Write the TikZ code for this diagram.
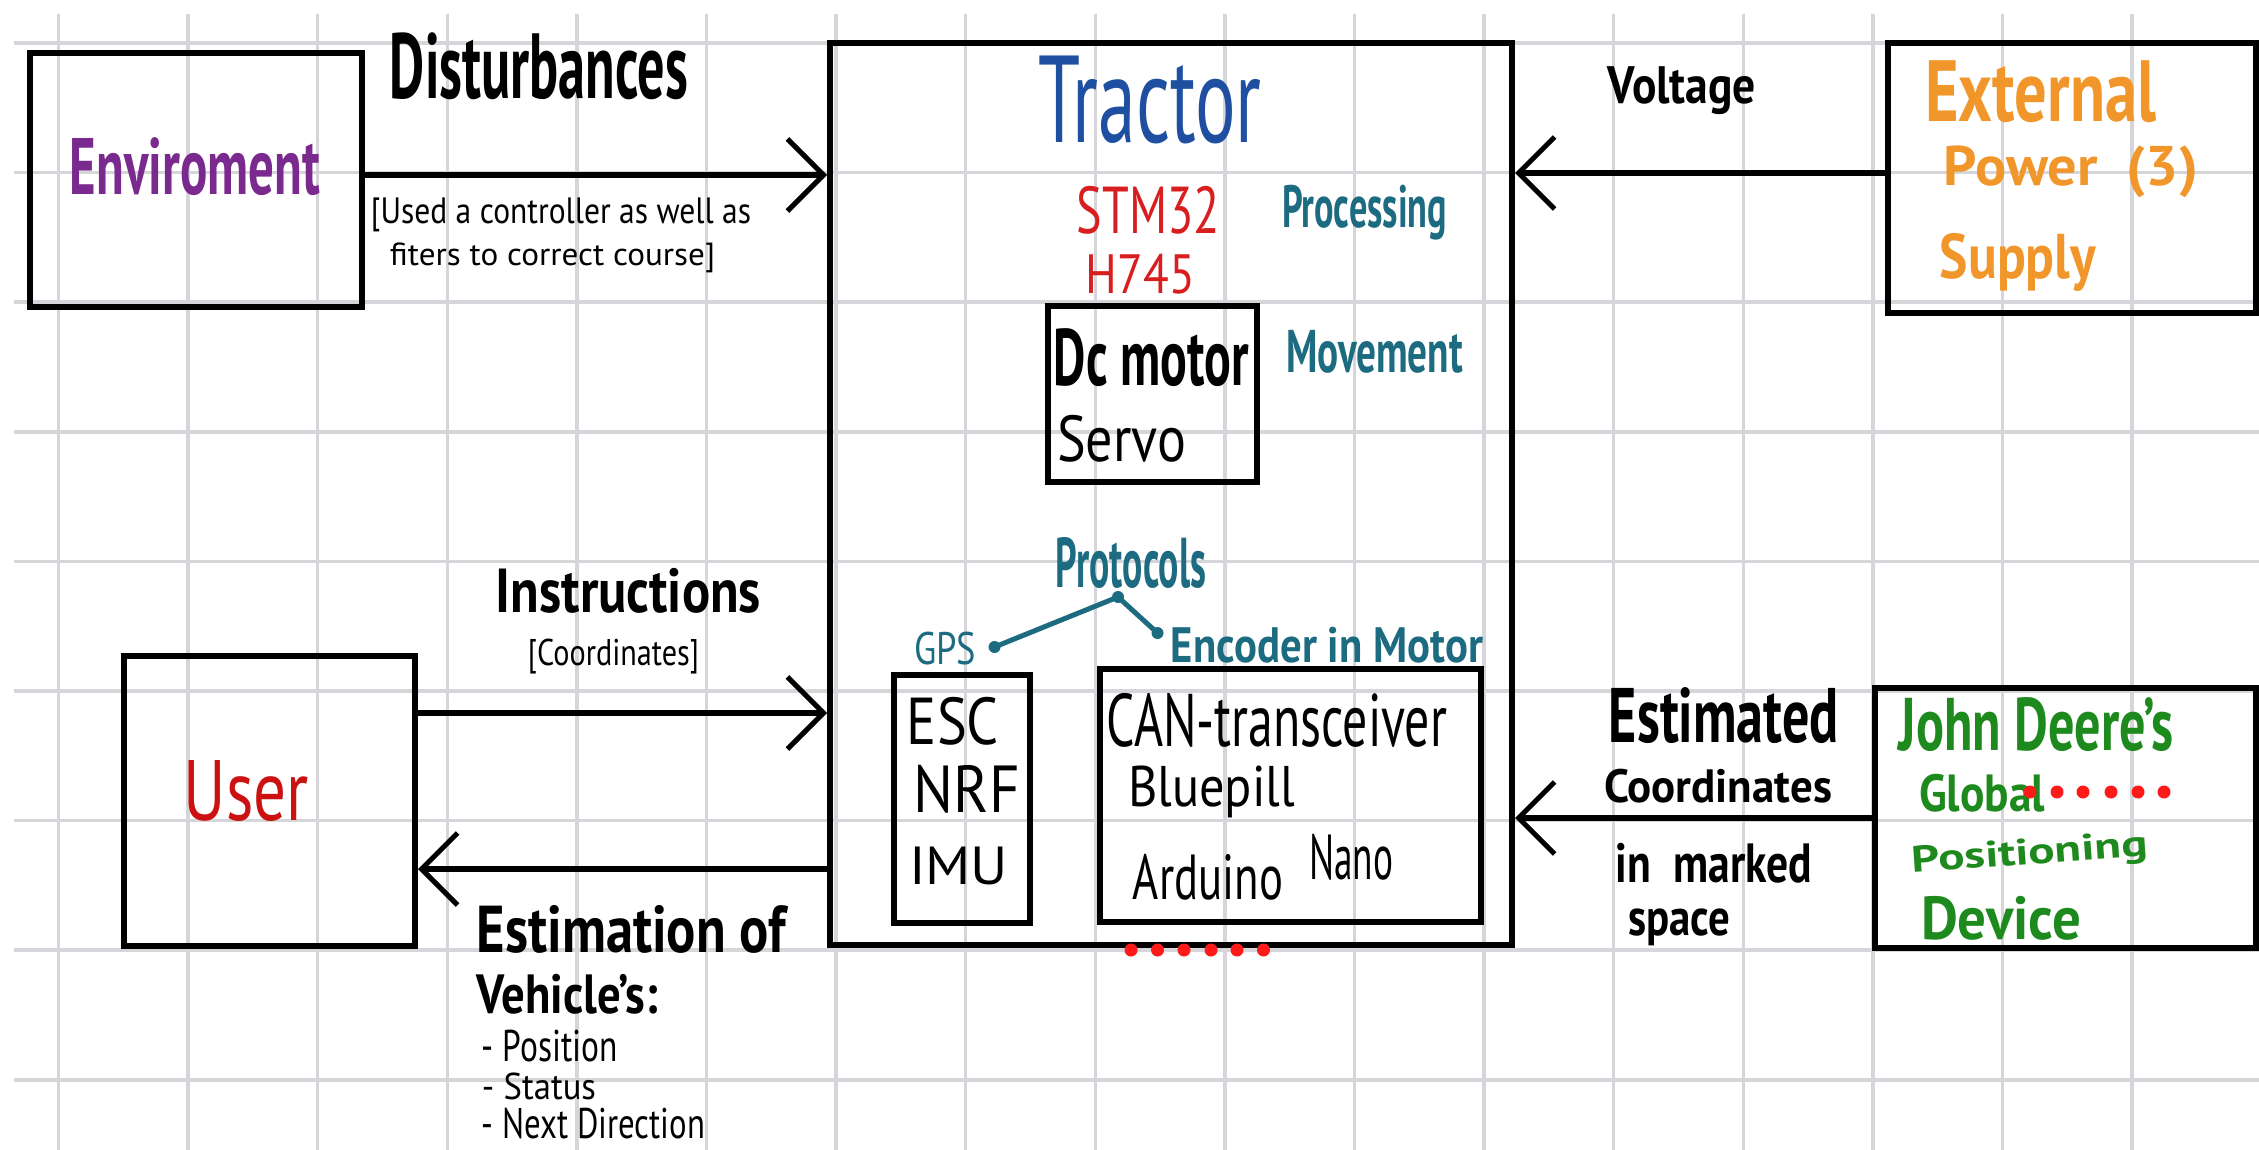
\documentclass[tikz,border=0pt]{standalone}
\usepackage{fontspec}
\usepackage{graphicx}
\setmainfont{PT Sans}
\usetikzlibrary{arrows.meta}

\definecolor{gridgray}{HTML}{D6D6DA}
\definecolor{envpurple}{HTML}{7A2A8E}
\definecolor{tracblue}{HTML}{1F4FA0}
\definecolor{chipred}{HTML}{D81E1E}
\definecolor{userred}{HTML}{CC1111}
\definecolor{noteteal}{HTML}{1C6B80}
\definecolor{powerorange}{HTML}{F0962A}
\definecolor{jdgreen}{HTML}{1E8A1E}
\definecolor{dotred}{HTML}{FF1A1A}

% handwritten-style label scaled to a given ink box (width, total height)
\newcommand\hw[3]{\resizebox*{#1pt}{#2pt}{#3}}
% same, with the heavier pen
\newcommand\hwb[3]{\resizebox*{#1pt}{#2pt}{\bfseries #3}}

\begin{document}
\begin{tikzpicture}[x=1pt,y=-1pt,
  box/.style={draw=black, line width=6pt, inner sep=0pt},
  lbl/.style={inner sep=0pt, anchor=center},
  arr/.style={draw=black, line width=5.5pt,
    -{Straight Barb[length=36pt,width=72pt,line width=5pt]}},
  protoline/.style={draw=noteteal, line width=5pt, line cap=round},
  reddot/.style={fill=dotred, draw=none}]

\useasboundingbox (0,0) rectangle (2259,1150);
\fill[white] (0,0) rectangle (2259,1150);

% squared paper
\foreach \k in {0,...,16}
  \draw[gridgray, line width=3.5pt] ({58.5+129.6*\k},14) -- ({58.5+129.6*\k},1150);
\foreach \j in {0,...,8}
  \draw[gridgray, line width=3.5pt] (14,{43+129.6*\j}) -- (2259,{43+129.6*\j});

% blocks
\node[box, minimum width=332pt, minimum height=254pt] (env) at (196,180) {};
\node[box, minimum width=682pt, minimum height=902pt] (tractor) at (1171,494) {};
\node[box, minimum width=368pt, minimum height=270pt] (ext) at (2072,178) {};
\node[box, minimum width=291pt, minimum height=290pt] (user) at (269.5,801) {};
\node[box, minimum width=381pt, minimum height=260pt] (jd) at (2065.5,818) {};
\node[box, minimum width=209pt, minimum height=176pt] (motor) at (1152.5,394) {};
\node[box, minimum width=136pt, minimum height=248pt] (esc) at (962,799) {};
\node[box, minimum width=381pt, minimum height=253pt] (can) at (1290.5,795.5) {};

% connectors
\draw[arr] (env.east |- 0,175) -- (tractor.west |- 0,175);
\draw[arr] (ext.west |- 0,173) -- (tractor.east |- 0,173);
\draw[arr] (user.east |- 0,713) -- (tractor.west |- 0,713);
\draw[arr] (tractor.west |- 0,869) -- (user.east |- 0,869);
\draw[arr] (jd.west |- 0,818) -- (tractor.east |- 0,818);

% protocol links
\coordinate (pgps) at (994.5,647);
\coordinate (pjoin) at (1118,597);
\coordinate (penc) at (1157.5,633);
\draw[protoline] (pgps) -- (pjoin) -- (penc);
\foreach \p in {pgps,pjoin,penc} \fill[noteteal] (\p) circle (6pt);

% block titles
\node[lbl, text=envpurple] (tEnv) at (195,167) {\hwb{250}{58}{Enviroment}};
\node[lbl, text=tracblue] (tTrac) at (1150,100) {\hw{223}{88}{Tractor}};
\node[lbl, text=powerorange] (tExt1) at (2040.5,92) {\hwb{231}{62}{External}};
\node[lbl, text=powerorange] (tExt2) at (2071,172) {\hwb{254}{52}{Power \ (3)}};
\node[lbl, text=powerorange] (tExt3) at (2018,262) {\hwb{156}{58}{Supply}};
\node[lbl, text=userred] (tUser) at (246.5,791.5) {\hw{125}{61}{User}};
\node[lbl, text=jdgreen] (tJd1) at (2036,725) {\hwb{274}{54}{John Deere's}};
\node[lbl, text=jdgreen] (tJd2) at (1982,793) {\hwb{126}{38}{Global}};
\node[lbl, text=jdgreen, rotate=4] (tJd3) at (2030,855) {\hwb{236}{34}{Positioning}};
\node[lbl, text=jdgreen] (tJd4) at (2001,918) {\hwb{160}{44}{Device}};

% inside the tractor
\node[lbl, text=chipred] (tStm1) at (1148.5,210) {\hw{143}{48}{STM32}};
\node[lbl, text=chipred] (tStm2) at (1140.5,274) {\hw{109}{40}{H745}};
\node[lbl, text=noteteal] (tProc) at (1364.5,212.5) {\hwb{165}{55}{Processing}};
\node[lbl] (tDc) at (1151.5,358) {\hwb{195}{58}{Dc motor}};
\node[lbl] (tServo) at (1121.5,439) {\hw{129}{47}{Servo}};
\node[lbl, text=noteteal] (tMove) at (1374.5,351.5) {\hwb{177}{43}{Movement}};
\node[lbl, text=noteteal] (tProt) at (1131,562.5) {\hwb{150}{51}{Protocols}};
\node[lbl, text=noteteal] (tGps) at (945,648.5) {\hw{62}{33}{GPS}};
\node[lbl, text=noteteal] (tEnc) at (1327,645) {\hwb{312}{36}{Encoder in Motor}};
\node[lbl] (tEsc) at (953,721) {\hw{92}{48}{ESC}};
\node[lbl] (tNrf) at (967,789) {\hw{106}{48}{NRF}};
\node[lbl] (tImu) at (958.5,866) {\hw{99}{38}{IMU}};
\node[lbl] (tCan) at (1277,720) {\hw{340}{54}{CAN-transceiver}};
\node[lbl] (tBp) at (1211.5,792) {\hw{167}{52}{Bluepill}};
\node[lbl] (tNano1) at (1208,877) {\hw{150}{46}{Arduino}};
\node[lbl] (tNano2) at (1351,857) {\hw{84}{46}{Nano}};

% connector labels
\node[lbl] (tDist) at (539,66.5) {\hwb{298}{67}{Disturbances}};
\node[lbl] (tCtl1) at (561,215) {\hw{380}{34}{[Used a controller as well as}};
\node[lbl] (tCtl2) at (552.5,258) {\hw{325}{30}{fiters to correct course]}};
\node[lbl] (tVolt) at (1682,91) {\hwb{148}{48}{Voltage}};
\node[lbl] (tInst) at (628.5,590.5) {\hwb{265}{45}{Instructions}};
\node[lbl] (tCoord) at (613.5,656.5) {\hw{171}{35}{[Coordinates]}};
\node[lbl] (tEst1) at (631.5,929) {\hwb{309}{48}{Estimation of}};
\node[lbl] (tEst2) at (567.5,994) {\hwb{181}{40}{Vehicle's:}};
\node[lbl] (tEst3) at (550,1046) {\hw{136}{32}{- Position}};
\node[lbl] (tEst4) at (539,1086) {\hw{114}{27}{- Status}};
\node[lbl] (tEst5) at (593.5,1124) {\hw{223}{31}{- Next Direction}};
\node[lbl] (tEc1) at (1724,716) {\hwb{230}{56}{Estimated}};
\node[lbl] (tEc2) at (1718,786) {\hwb{228}{34}{Coordinates}};
\node[lbl] (tEc3) at (1714,863) {\hwb{196}{40}{in \ marked}};
\node[lbl] (tEc4) at (1679,927.5) {\hwb{102}{37}{space}};

% red marker dots
\foreach \x in {1131,1157.5,1184,1211,1237,1263.5}
  \fill[reddot] (\x,950) circle (6.5pt);
\foreach \x in {2030,2057,2083,2111,2138,2164}
  \fill[reddot] (\x,792) circle (6.5pt);

\end{tikzpicture}
\end{document}
